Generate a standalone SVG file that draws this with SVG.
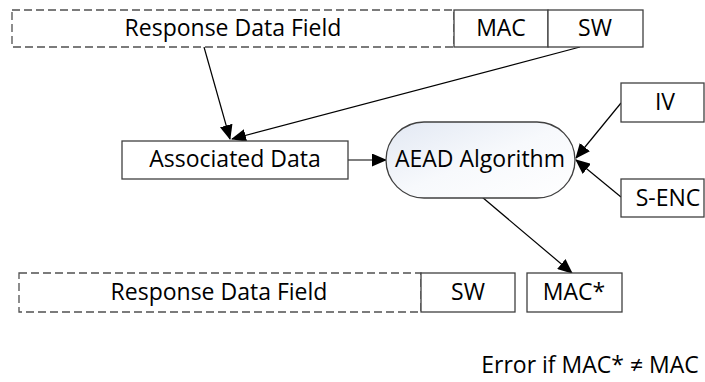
<svg xmlns="http://www.w3.org/2000/svg" width="705" height="382" viewBox="0 0 705 382">
  <style>
    .box { fill: #ffffff; stroke: #404040; stroke-width: 1.3; }
    .dash { fill: #ffffff; stroke: #505050; stroke-width: 1.3; stroke-dasharray: 8 4; }
    .lbl { font-family: "Open Sans", "Noto Sans", "Liberation Sans", sans-serif; font-size: 23px; fill: #000000; text-anchor: middle; }
    .edge { fill: none; stroke: #000000; stroke-width: 1.2; }
  </style>
  <defs>
    <marker id="arrow" markerUnits="userSpaceOnUse" markerWidth="15" markerHeight="13" viewBox="0 0 15 13" refX="14" refY="6.5" orient="auto">
      <path d="M0,0 L15,6.5 L0,13 Z" fill="#000000"/>
    </marker>
    <linearGradient id="pillFill" x1="0" y1="0" x2="1" y2="1">
      <stop offset="0" stop-color="#e2e8f3"/>
      <stop offset="0.5" stop-color="#f7f9fc"/>
      <stop offset="1" stop-color="#ffffff"/>
    </linearGradient>
  </defs>

  <!-- connectors -->
  <g id="connectors">
    <line class="edge" x1="204" y1="47" x2="230" y2="139" marker-end="url(#arrow)"/>
    <line class="edge" x1="580" y1="47" x2="232" y2="139" marker-end="url(#arrow)"/>
    <line class="edge" x1="348" y1="160" x2="386" y2="160" marker-end="url(#arrow)"/>
    <line class="edge" x1="621" y1="103" x2="576" y2="158" marker-end="url(#arrow)"/>
    <line class="edge" x1="621" y1="197" x2="576" y2="160" marker-end="url(#arrow)"/>
    <line class="edge" x1="482" y1="197" x2="572" y2="273" marker-end="url(#arrow)"/>
  </g>

  <!-- top response -->
  <g id="resp-top">
    <rect class="dash" x="12" y="10" width="442" height="37"/>
    <text class="lbl" x="233" y="36">Response Data Field</text>
  </g>
  <g id="mac-top">
    <rect class="box" x="454" y="10" width="94" height="37"/>
    <text class="lbl" x="501" y="36">MAC</text>
  </g>
  <g id="sw-top">
    <rect class="box" x="548" y="10" width="95" height="37"/>
    <text class="lbl" x="595" y="36">SW</text>
  </g>

  <!-- middle -->
  <g id="assoc">
    <rect class="box" x="122" y="141" width="226" height="38"/>
    <text class="lbl" x="235" y="167">Associated Data</text>
  </g>
  <g id="aead">
    <rect x="386" y="122" width="189" height="76" rx="38" ry="38" fill="url(#pillFill)" stroke="#404040" stroke-width="1.3"/>
    <text class="lbl" x="480" y="167">AEAD Algorithm</text>
  </g>
  <g id="iv">
    <rect class="box" x="621" y="83" width="83" height="39"/>
    <text class="lbl" x="665" y="110">IV</text>
  </g>
  <g id="senc">
    <rect class="box" x="621" y="179" width="83" height="38"/>
    <text class="lbl" x="668" y="206">S-ENC</text>
  </g>

  <!-- bottom response -->
  <g id="resp-bottom">
    <rect class="dash" x="19" y="273" width="402" height="39"/>
    <text class="lbl" x="219" y="300">Response Data Field</text>
  </g>
  <g id="sw-bottom">
    <rect class="box" x="421" y="273" width="94" height="39"/>
    <text class="lbl" x="468" y="300">SW</text>
  </g>
  <g id="mac-star">
    <rect class="box" x="527" y="273" width="95" height="39"/>
    <text class="lbl" x="574" y="300">MAC*</text>
  </g>

  <g id="note">
    <text class="lbl" x="590" y="373">Error if MAC* ≠ MAC</text>
  </g>
</svg>
